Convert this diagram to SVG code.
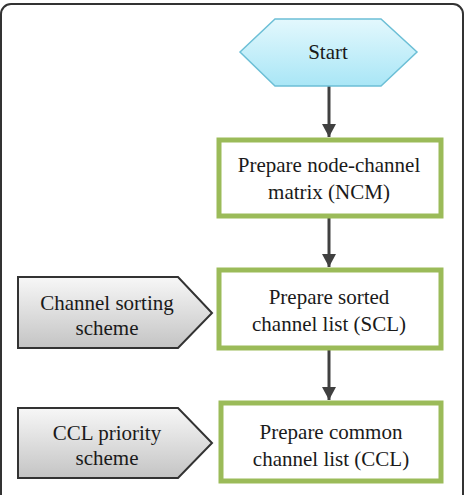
<svg xmlns="http://www.w3.org/2000/svg" width="465" height="495" viewBox="0 0 465 495">
<defs>
<linearGradient id="gHex" x1="0" y1="0" x2="0" y2="1"><stop offset="0" stop-color="#e3f8fd"/><stop offset="1" stop-color="#a9e6f6"/></linearGradient>
<linearGradient id="gGray" x1="0" y1="0" x2="0" y2="1"><stop offset="0" stop-color="#f7f7f7"/><stop offset="1" stop-color="#c4c4c4"/></linearGradient>
<marker id="arr" viewBox="0 0 13 14" refX="13" refY="7" markerWidth="13" markerHeight="14" markerUnits="userSpaceOnUse" orient="auto"><path d="M0,0 L13,7 L0,14 Z" fill="#404040"/></marker>
</defs>
<rect x="1" y="4" width="462" height="500" rx="10" fill="#ffffff" stroke="#333333" stroke-width="2"/>
<g id="connectors" stroke="#404040" stroke-width="3" fill="none">
<line x1="329" y1="86" x2="329" y2="137" marker-end="url(#arr)"/>
<line x1="329" y1="218" x2="329" y2="267" marker-end="url(#arr)"/>
<line x1="329" y1="350" x2="329" y2="400" marker-end="url(#arr)"/>
</g>
<g id="start">
<polygon points="240,52 275,19 381,19 417,52 381,86 275,86" fill="url(#gHex)" stroke="#6cbfd6" stroke-width="1.5"/>
<text x="328" y="59" style="font-family:'Liberation Serif',serif;font-size:21px;fill:#1a1a1a;text-anchor:middle">Start</text>
</g>
<g id="ncm">
<rect x="219" y="140" width="222" height="76" fill="#ffffff" stroke="#9bbb59" stroke-width="5"/>
<text x="329" y="172" style="font-family:'Liberation Serif',serif;font-size:21px;fill:#1a1a1a;text-anchor:middle">Prepare node-channel</text>
<text x="329" y="199" style="font-family:'Liberation Serif',serif;font-size:21px;fill:#1a1a1a;text-anchor:middle">matrix (NCM)</text>
</g>
<g id="scl">
<rect x="219" y="270" width="222" height="78" fill="#ffffff" stroke="#9bbb59" stroke-width="5"/>
<text x="329" y="304" style="font-family:'Liberation Serif',serif;font-size:21px;fill:#1a1a1a;text-anchor:middle">Prepare sorted</text>
<text x="329" y="331" style="font-family:'Liberation Serif',serif;font-size:21px;fill:#1a1a1a;text-anchor:middle">channel list (SCL)</text>
</g>
<g id="ccl">
<rect x="221" y="403" width="220" height="78" fill="#ffffff" stroke="#9bbb59" stroke-width="5"/>
<text x="331" y="439" style="font-family:'Liberation Serif',serif;font-size:21px;fill:#1a1a1a;text-anchor:middle">Prepare common</text>
<text x="331" y="466" style="font-family:'Liberation Serif',serif;font-size:21px;fill:#1a1a1a;text-anchor:middle">channel list (CCL)</text>
</g>
<g id="sorting">
<polygon points="18,277 178,277 212,313 178,348 18,348" fill="url(#gGray)" stroke="#333333" stroke-width="2"/>
<text x="107" y="310" style="font-family:'Liberation Serif',serif;font-size:21px;fill:#1a1a1a;text-anchor:middle">Channel sorting</text>
<text x="107" y="335" style="font-family:'Liberation Serif',serif;font-size:21px;fill:#1a1a1a;text-anchor:middle">scheme</text>
</g>
<g id="priority">
<polygon points="18,408 178,408 212,443 178,478 18,478" fill="url(#gGray)" stroke="#333333" stroke-width="2"/>
<text x="107" y="440" style="font-family:'Liberation Serif',serif;font-size:21px;fill:#1a1a1a;text-anchor:middle">CCL priority</text>
<text x="107" y="465" style="font-family:'Liberation Serif',serif;font-size:21px;fill:#1a1a1a;text-anchor:middle">scheme</text>
</g>
</svg>
